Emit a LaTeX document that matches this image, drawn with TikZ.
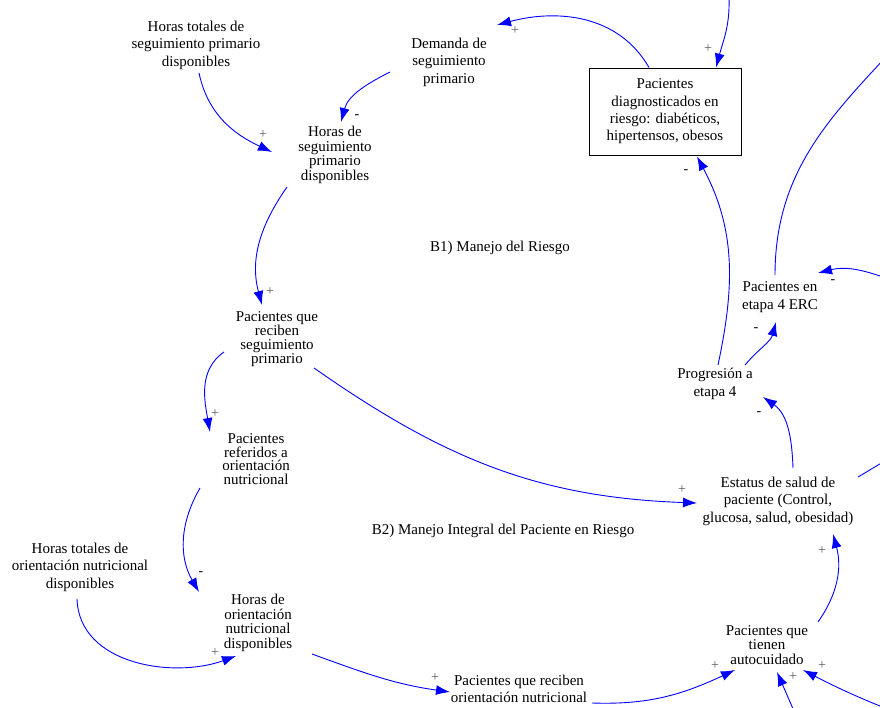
\documentclass[tikz,border=0pt]{standalone}
\usepackage{fontspec}
\setmainfont{Liberation Serif}
\usetikzlibrary{calc}
\usetikzlibrary{arrows.meta}

\tikzset{
  var/.style={align=center, inner sep=0pt, font=\fontsize{15}{17.5}\selectfont},
  tight/.style={font=\fontsize{15}{#1}\selectfont},
  tight/.default=14.5,
  level/.style={rectangle, draw=black, line width=0.8pt, align=center,
    minimum width=152pt, minimum height=87pt, inner sep=0pt,
    font=\fontsize{15}{17.3}\selectfont},
  link/.style={draw=blue, line width=0.9pt, -{Latex[length=14pt,width=10pt]}},
  plus/.style={inner sep=0pt, text=black!65, font=\fontsize{14}{14}\selectfont},
  minus/.style={inner sep=0pt, text=black, font=\fontsize{14}{14}\selectfont},
  loopname/.style={inner sep=0pt, font=\fontsize{15}{17}\selectfont},
}

\begin{document}
\begin{tikzpicture}[x=1pt, y=-1pt]
\useasboundingbox (0,0) rectangle (880,708);
\clip (0,0) rectangle (880,708);

% variables
\node [var] (htsp) at (196,45) {Horas totales de\\seguimiento primario\\disponibles};
\node [var] (dsp) at (449,62) {Demanda de\\seguimiento\\primario};
\node [var, tight] (hspd) at (335,155) {Horas de\\seguimiento\\primario\\disponibles};
\node [level] (pdr) at (665,111.5) {Pacientes\\diagnosticados en\\riesgo: diabéticos,\\hipertensos, obesos};
\node [var] (pse) at (780,297) {Pacientes en\\etapa 4 ERC};
\node [var] (prog) at (715,384) {Progresión a\\etapa 4};
\node [var, tight=14] (psp) at (277,339) {Pacientes que\\reciben\\seguimiento\\primario};
\node [var, tight=13.5] (pro) at (256,459) {Pacientes\\referidos a\\orientación\\nutricional};
\node [var] (est) at (778,501) {Estatus de salud de\\paciente (Control,\\glucosa, salud, obesidad)};
\node [var] (htno) at (80,567) {Horas totales de\\orientación nutricional\\disponibles};
\node [var, tight] (hon) at (258,623) {Horas de\\orientación\\nutricional\\disponibles};
\node [var] (pron) at (519,689) {Pacientes que reciben\\orientación nutricional};
\node [var, tight] (pta) at (767,645) {Pacientes que\\tienen\\autocuidado};

% loop names
\node [loopname] (b1) at (500,248) {B1) Manejo del Riesgo};
\node [loopname] (b2) at (503,531) {B2) Manejo Integral del Paciente en Riesgo};

% free ends outside the frame
\coordinate (inA) at (729,-2);
\coordinate (outB) at (915,25);
\coordinate (inC) at (900,283);
\coordinate (outD) at (905,449);
\coordinate (inE) at (797,718);
\coordinate (inF) at (900,714);

% links
\draw [link] ($(htsp)+(3,28)$) to [out=-78, in=155] ($(hspd)+(-63,-3)$);
\draw [link] ($(dsp)+(-59,10)$) to [out=207, in=75] ($(hspd)+(6,-33)$);
\draw [link] ($(pdr)+(-16,-44)$) to [out=120, in=15] ($(dsp)+(48,-37)$);
\draw [link] (inA) to [out=-88, in=75] ($(pdr)+(51,-44)$);
\draw [link] ($(prog)+(3,-19)$) to [out=78, in=-62] ($(pdr)+(32,45)$);
\draw [link] ($(pse)+(-5,-22)$) to [out=90, in=228] (outB);
\draw [link] (inC) to [out=160, in=14] ($(pse)+(38,-24)$);
\draw [link] ($(prog)+(30,-19)$) to [out=50, in=-105] ($(pse)+(-4,25)$);
\draw [link] ($(est)+(15,-33)$) to [out=92, in=-35] ($(prog)+(48,13)$);
\draw [link] ($(est)+(80,-24)$) -- (outD);
\draw [link] ($(psp)+(37,29)$) to [out=-35, in=178] ($(est)+(-81,2)$);
\draw [link] ($(hspd)+(-48,32)$) to [out=235, in=105] ($(psp)+(-15,-34)$);
\draw [link] ($(psp)+(-53,13)$) to [out=215, in=100] ($(pro)+(-46,-27)$);
\draw [link] ($(pro)+(-56,29)$) to [out=240, in=120] ($(hon)+(-59,-31)$);
\draw [link] ($(htno)+(-3,32)$) to [out=-88, in=200] ($(hon)+(-22,33)$);
\draw [link] ($(hon)+(54,31)$) to [out=-20, in=172] ($(pron)+(-69,3)$);
\draw [link] ($(pron)+(73,14)$) to [out=-2, in=205] ($(pta)+(-32,25)$);
\draw [link] ($(pta)+(51,-23)$) to [out=55, in=-75] ($(est)+(55,33)$);
\draw [link] (inE) -- ($(pta)+(10,27)$);
\draw [link] (inF) to [bend left=3] ($(pta)+(36,25)$);

% polarities
\foreach \x/\y [count=\i] in {263/135, 515/31, 708/49, 682/490, 822/551, 270/292,
    215/414, 215/653, 435/678, 715/666, 793/677, 822/666}
  \node [plus] (p\i) at (\x,\y) {+};
\foreach \x/\y [count=\i] in {357/117, 686/172, 833/282, 756/330, 759/414, 201/574}
  \node [minus] (m\i) at (\x,\y) {-};
\end{tikzpicture}
\end{document}
